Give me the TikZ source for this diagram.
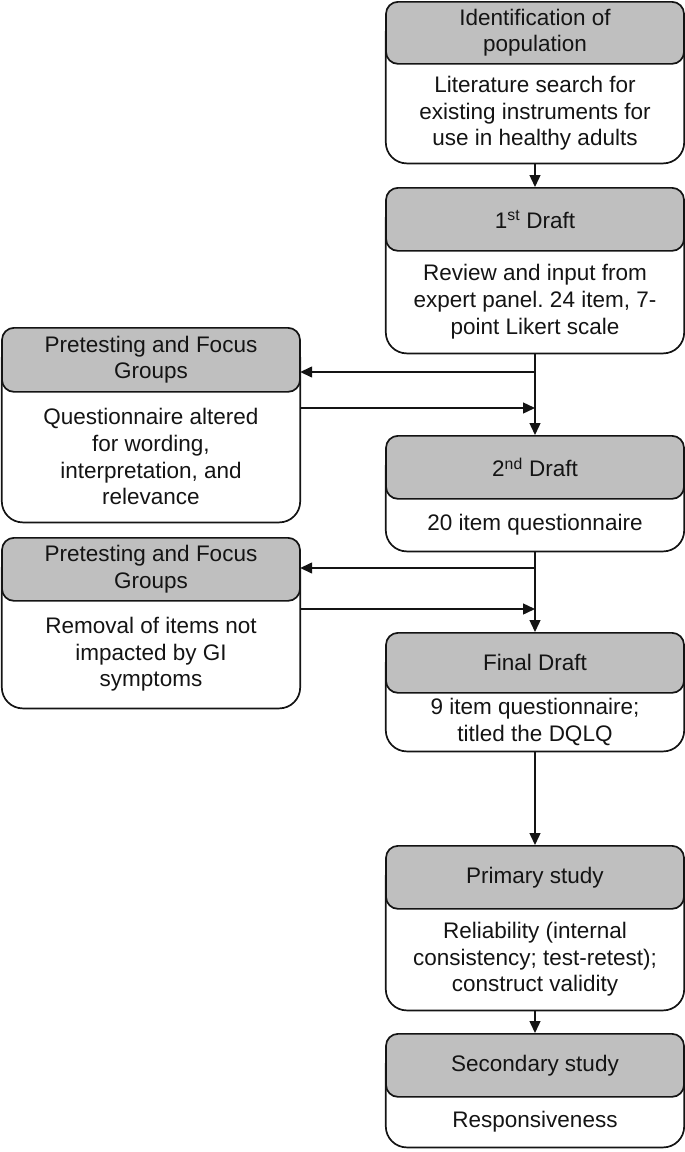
\documentclass[tikz,border=0pt]{standalone}
\usepackage{fontspec}
\setmainfont{Liberation Sans}
\usetikzlibrary{arrows.meta,calc}
\definecolor{headgray}{RGB}{191,191,191}
\definecolor{ink}{RGB}{20,20,20}
\frenchspacing
\newcommand\mkbox[7]{%
  \node[frame, minimum height={#5-#3}, anchor=north] (#1) at (#2,#3) {};
  \draw[outline] ($(#1.north west)+(0,30)$) -- (#1.south west) -- (#1.south east) -- ($(#1.north east)+(0,30)$);
  \node[head, minimum height={#4-#3}, anchor=north] (#1h) at (#1.north) {#6};
  \node[bodytxt] (#1b) at ($(#1.south)!0.5!(#2,#4)$) {#7};
}
\begin{document}
\begin{tikzpicture}[x=1pt,y=-1pt,
  frame/.style={rectangle, minimum width=298pt, inner sep=0pt, draw=none},
  outline/.style={draw=ink, line width=1.7pt, rounded corners=21pt},
  head/.style={rectangle, draw=ink, line width=1.7pt, fill=headgray, rounded corners=12pt,
    minimum width=298pt, inner sep=0pt, align=center, text=ink,
    font=\fontsize{22.5}{26.5}\selectfont},
  bodytxt/.style={align=center, inner sep=0pt, text=ink, font=\fontsize{22.5}{26.8}\selectfont},
  arr/.style={draw=ink, line width=1.4pt, -{Triangle[length=12pt,width=11pt]}}]
\useasboundingbox (0,0) rectangle (685,1152);
\mkbox{A}{535}{1}{63}{163}{Identification of\\population}{Literature search for\\existing instruments for\\use in healthy adults}
\mkbox{B}{535}{187}{250}{353}{1\textsuperscript{st} Draft}{Review and input from\\expert panel. 24 item, 7-\\point Likert scale}
\mkbox{C}{535}{435}{498}{551}{2\textsuperscript{nd} Draft}{20 item questionnaire}
\mkbox{D}{535}{632}{692}{751}{Final Draft}{9 item questionnaire;\\titled the DQLQ}
\mkbox{E}{535}{845}{908}{1010}{Primary study}{Reliability (internal\\consistency; test-retest);\\construct validity}
\mkbox{F}{535}{1033}{1096}{1147}{Secondary study}{Responsiveness}
\mkbox{L1}{151}{327}{391}{522}{Pretesting and Focus\\Groups}{Questionnaire altered\\for wording,\\interpretation, and\\relevance}
\mkbox{L2}{151}{537}{600}{708}{Pretesting and Focus\\Groups}{Removal of items not\\impacted by GI\\symptoms}
\coordinate (s1) at (535,372);
\coordinate (m1) at (535,408);
\coordinate (s2) at (535,568);
\coordinate (m2) at (535,609);
\draw[arr] (A.south) -- (B.north);
\draw[arr] (B.south) -- (C.north);
\draw[arr] (s1) -- (s1 -| L1.east);
\draw[arr] (L1.east |- m1) -- (m1);
\draw[arr] (C.south) -- (D.north);
\draw[arr] (s2) -- (s2 -| L2.east);
\draw[arr] (L2.east |- m2) -- (m2);
\draw[arr] (D.south) -- (E.north);
\draw[arr] (E.south) -- (F.north);
\end{tikzpicture}
\end{document}
